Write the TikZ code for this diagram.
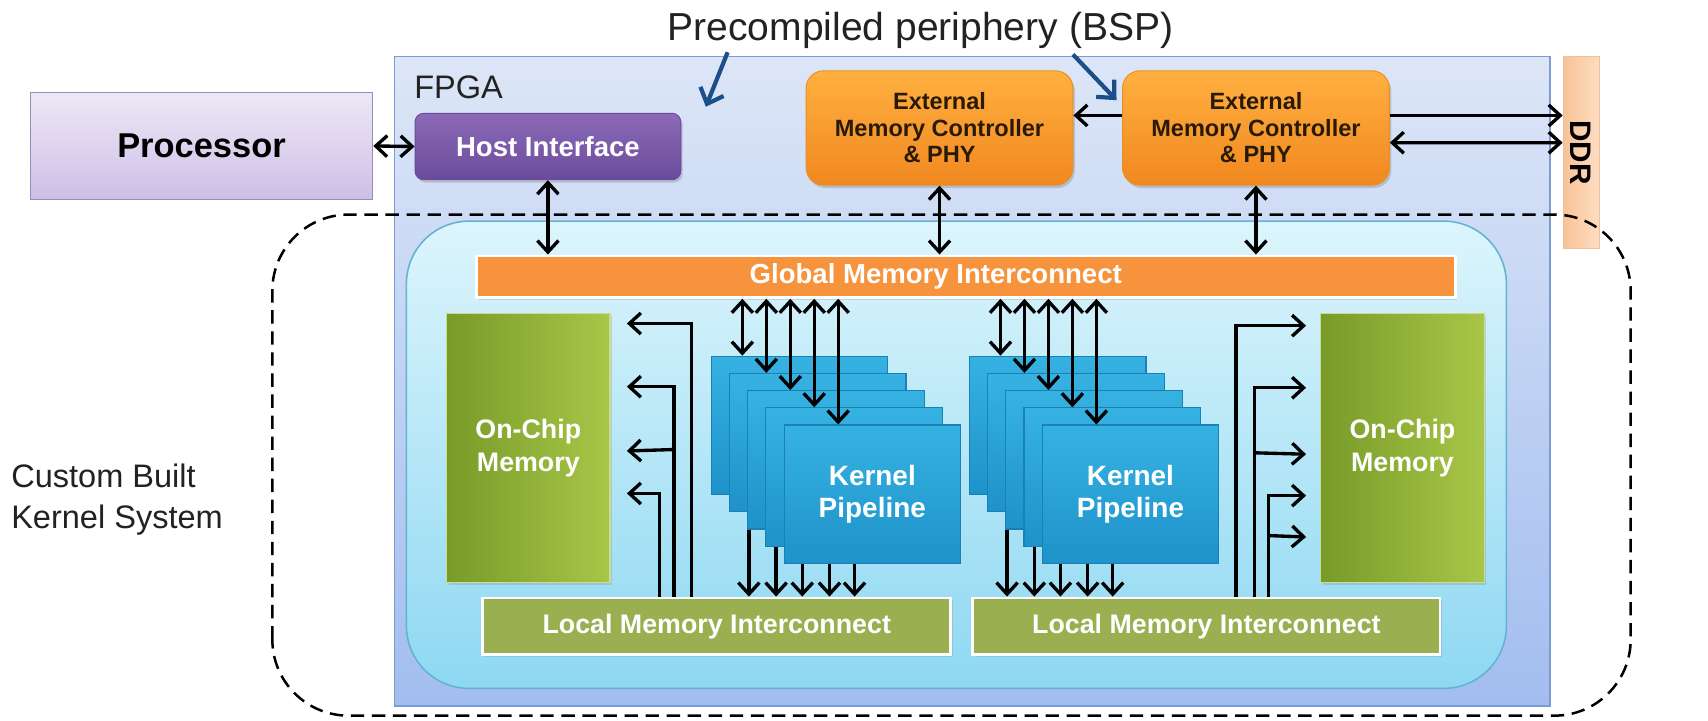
\documentclass[tikz,border=0pt]{standalone}
\usepackage{fontspec}
\setmainfont{Liberation Sans}
\usetikzlibrary{arrows.meta,shadows,calc}
\definecolor{titlegray}{HTML}{222222}
\definecolor{bluearrow}{HTML}{1B4F8A}
\definecolor{procTop}{HTML}{EEE8F7}
\definecolor{procBot}{HTML}{CDBFE6}
\definecolor{procLine}{HTML}{9A8CB8}
\definecolor{hostTop}{HTML}{8C6AB8}
\definecolor{hostBot}{HTML}{6A4B9B}
\definecolor{emcTop}{HTML}{FFB040}
\definecolor{emcBot}{HTML}{F08820}
\definecolor{emcLine}{HTML}{E8901F}
\definecolor{emcText}{HTML}{2A1A05}
\definecolor{ddrL}{HTML}{F8C296}
\definecolor{ddrR}{HTML}{FDDDC2}
\definecolor{ddrLine}{HTML}{EFC098}
\definecolor{fpgaTop}{HTML}{DDE6F7}
\definecolor{fpgaBot}{HTML}{A2BDEF}
\definecolor{fpgaLine}{HTML}{7A9BD4}
\definecolor{innerTop}{HTML}{DDF5FC}
\definecolor{innerBot}{HTML}{8ED8F2}
\definecolor{innerLine}{HTML}{64B2D2}
\definecolor{globalFill}{HTML}{F7933C}
\definecolor{memL}{HTML}{789A28}
\definecolor{memR}{HTML}{A8C648}
\definecolor{localFill}{HTML}{9AAF50}
\definecolor{kTop}{HTML}{36B2E2}
\definecolor{kBot}{HTML}{1E92C9}
\definecolor{kLine}{HTML}{1B80B4}
\tikzset{
  tipb/.tip={Straight Barb[length=6pt,width=11pt]},
  arr/.style={draw=black, line width=1.75pt, -tipb},
  darr/.style={draw=black, line width=1.75pt, tipb-tipb},
  bluearr/.style={draw=bluearrow, line width=2.2pt, -{Straight Barb[length=7pt,width=13pt]}},
  procbox/.style={draw=procLine, line width=0.8pt, top color=procTop, bottom color=procBot,
     minimum width=6.28cm, minimum height=1.96cm, inner sep=0pt,
     font=\fontsize{18}{21}\selectfont\bfseries, text=black},
  hostbox/.style={draw=hostBot, line width=0.5pt, top color=hostTop, bottom color=hostBot,
     rounded corners=0.16cm, minimum width=4.88cm, minimum height=1.22cm, inner sep=0pt,
     font=\fontsize{14.4}{17}\selectfont\bfseries, text=white,
     drop shadow={opacity=0.35, shadow xshift=1pt, shadow yshift=-1.5pt}},
  emcbox/.style={draw=emcLine, line width=0.5pt, top color=emcTop, bottom color=emcBot,
     rounded corners=0.32cm, minimum width=4.9cm, minimum height=2.1cm, inner sep=0pt,
     align=center, font=\fontsize{12.3}{13.8}\selectfont\bfseries, text=emcText,
     drop shadow={opacity=0.35, shadow xshift=1pt, shadow yshift=-1.5pt}},
  ddrbox/.style={draw=ddrLine, line width=0.5pt, left color=ddrL, right color=ddrR,
     minimum width=0.66cm, minimum height=3.52cm, inner sep=0pt},
  fpgabox/.style={draw=fpgaLine, line width=0.8pt, top color=fpgaTop, bottom color=fpgaBot,
     minimum width=21.22cm, minimum height=11.92cm, inner sep=0pt},
  innerbox/.style={draw=innerLine, line width=0.8pt, top color=innerTop, bottom color=innerBot,
     rounded corners=1.15cm, minimum width=20.2cm, minimum height=8.58cm, inner sep=0pt},
  globalbox/.style={draw=white, line width=1.5pt, fill=globalFill,
     minimum width=17.98cm, minimum height=0.76cm, inner sep=0pt,
     font=\fontsize{14.4}{17}\selectfont\bfseries, text=white,
     drop shadow={opacity=0.25, shadow xshift=1pt, shadow yshift=-1.2pt}},
  membox/.style={draw=memR!60!white, line width=0.6pt, left color=memL, right color=memR,
     minimum width=3cm, minimum height=4.94cm, inner sep=0pt, align=center,
     font=\fontsize{14}{17}\selectfont\bfseries, text=white,
     drop shadow={opacity=0.25, shadow xshift=1pt, shadow yshift=-1.2pt}},
  localbox/.style={draw=white, line width=1.5pt, fill=localFill,
     minimum width=8.6cm, minimum height=1.04cm, inner sep=0pt,
     font=\fontsize{14}{17}\selectfont\bfseries, text=white,
     drop shadow={opacity=0.25, shadow xshift=1pt, shadow yshift=-1.2pt}},
  kbox/.style={draw=kLine, line width=0.6pt, top color=kTop, bottom color=kBot,
     minimum width=3.24cm, minimum height=2.54cm, inner sep=0pt, align=center,
     font=\fontsize{14.6}{17}\selectfont\bfseries, text=white},
  dashbound/.style={draw=black, line width=1.3pt, dash pattern=on 7pt off 4pt, rounded corners=1.4cm},
  plainlabel/.style={inner sep=0pt, text=titlegray}
}
\begin{document}
\begin{tikzpicture}[x=0.02cm, y=-0.02cm]
\useasboundingbox (0,0) rectangle (1568,661);
\fill[white] (0,0) rectangle (1568,661);

% title
\node[plainlabel, font=\fontsize{20.4}{24}\selectfont] (bsp) at (845,28) {Precompiled periphery (BSP)};

% FPGA
\node[fpgabox] (fpga) at (892.5,350) {};
\node[plainlabel, anchor=west, font=\fontsize{17}{20}\selectfont] (fpgalabel) at (380,80) {FPGA};

% processor and host
\node[procbox] (proc) at (185,134) {Processor};
\node[hostbox] (host) at (503,134.5) {Host Interface};

% external memory controllers
\node[emcbox] (emc1) at (862.5,117.5) {External\\Memory Controller\\\& PHY};
\node[emcbox] (emc2) at (1153,117.5) {External\\Memory Controller\\\& PHY};

% DDR
\node[ddrbox] (ddr) at (1451.5,140) {};
\node[rotate=-90, font=\fontsize{15.5}{18}\selectfont\bfseries, text=black, inner sep=0pt] (ddrlabel) at (ddr.center) {DDR};

% inner kernel system box
\node[innerbox] (inner) at (878,417.5) {};

% dashed boundary
\draw[dashbound] (250,657) -- (250,197) -- (1497,197) -- (1497,657) -- cycle;

% global interconnect
\node[globalbox] (global) at (886.5,254) {Global Memory Interconnect\hspace*{1.1cm}};

% on-chip memories
\node[membox] (memL) at (485,411.5) {On-Chip\\Memory};
\node[membox] (memR) at (1287.5,411.5) {On-Chip\\Memory};

% local interconnects
\node[localbox] (localL) at (658,575) {Local Memory Interconnect};
\node[localbox, minimum width=8.58cm] (localR) at (1107.5,575) {Local Memory Interconnect};

% kernel pipeline stacks
\foreach \k in {0,...,3} {
  \node[kbox] (kL\k) at ({734+16.7*\k},{390.5+15.8*\k}) {};
  \node[kbox] (kR\k) at ({971+16.7*\k},{390.5+15.8*\k}) {};
}
\node[kbox] (kL4) at ({734+16.7*4},{390.5+15.8*4}) {Kernel\\Pipeline};
\node[kbox] (kR4) at ({971+16.7*4},{390.5+15.8*4}) {Kernel\\Pipeline};

% blue pointer arrows
\coordinate (b1s) at (668,48);
\coordinate (b1e) at (648,98);
\coordinate (b2s) at (985,50);
\coordinate (b2e) at (1025,92);
\draw[bluearr] (b1s) -- (b1e);
\draw[bluearr] (b2s) -- (b2e);

% top connections
\draw[darr] (proc.east) -- (host.west);
\draw[darr] (host.south) -- (host.south |- global.north);
\draw[darr] (emc1.south) -- (emc1.south |- global.north);
\draw[darr] (emc2.south) -- (emc2.south |- global.north);
\draw[arr] ($(emc2.west)+(0,-11.5)$) -- ($(emc1.east)+(0,-11.5)$);
\draw[arr] ($(emc2.east)+(0,-11.5)$) -- ($(ddr.west)+(0,-34)$);
\draw[darr] ($(emc2.east)+(0,13.5)$) -- ($(ddr.west)+(0,-9)$);

% global <-> kernel layers
\foreach \k in {0,...,4} {
  \coordinate (uL\k) at ($(kL\k.north west)+({29+5.3*\k},0)$);
  \coordinate (uR\k) at ($(kR\k.north west)+({29+5.3*\k},0)$);
  \draw[darr] (uL\k |- global.south) -- (uL\k);
  \draw[darr] (uR\k |- global.south) -- (uR\k);
}

% kernel layers -> local interconnects
\foreach \s/\L in {L/localL, R/localR} {
  \coordinate (d\s0) at ($(k\s2.south west)+(1.6,0)$);
  \coordinate (d\s1) at ($(k\s3.south west)+(9.9,0)$);
  \coordinate (d\s2) at ($(k\s4.south west)+(17.2,0)$);
  \coordinate (d\s3) at ($(k\s4.south west)+(42.2,0)$);
  \coordinate (d\s4) at ($(k\s4.south west)+(65.2,0)$);
  \foreach \j in {0,...,4} {
    \draw[arr] (d\s\j) -- (d\s\j |- \L.north);
  }
}

% local interconnect -> left on-chip memory
\draw[arr] ($(localL.north west)+(193,0)$) |- ($(memL.east)+(15,-114.5)$);
\draw[arr] ($(localL.north west)+(177,0)$) |- ($(memL.east)+(15,-56.5)$);
\draw[arr] ($(localL.north west)+(177,-135)$) -- ($(memL.east)+(15,2.5)$);
\draw[arr] ($(localL.north west)+(164,0)$) |- ($(memL.east)+(15,41.5)$);

% local interconnect -> right on-chip memory
\draw[arr] ($(localR.north west)+(243,0)$) |- ($(memR.west)+(-13,-112.5)$);
\draw[arr] ($(localR.north west)+(260,0)$) |- ($(memR.west)+(-13,-55.5)$);
\draw[arr] ($(localR.north west)+(260,-132)$) -- ($(memR.west)+(-13,5.5)$);
\draw[arr] ($(localR.north west)+(273,0)$) |- ($(memR.west)+(-13,43.5)$);
\draw[arr] ($(localR.north west)+(273,-56)$) -- ($(memR.west)+(-13,81.5)$);

% custom built label
\node[plainlabel, anchor=west, align=left, font=\fontsize{17}{21.5}\selectfont] (custom) at (10,459) {Custom Built\\Kernel System};
\end{tikzpicture}
\end{document}
